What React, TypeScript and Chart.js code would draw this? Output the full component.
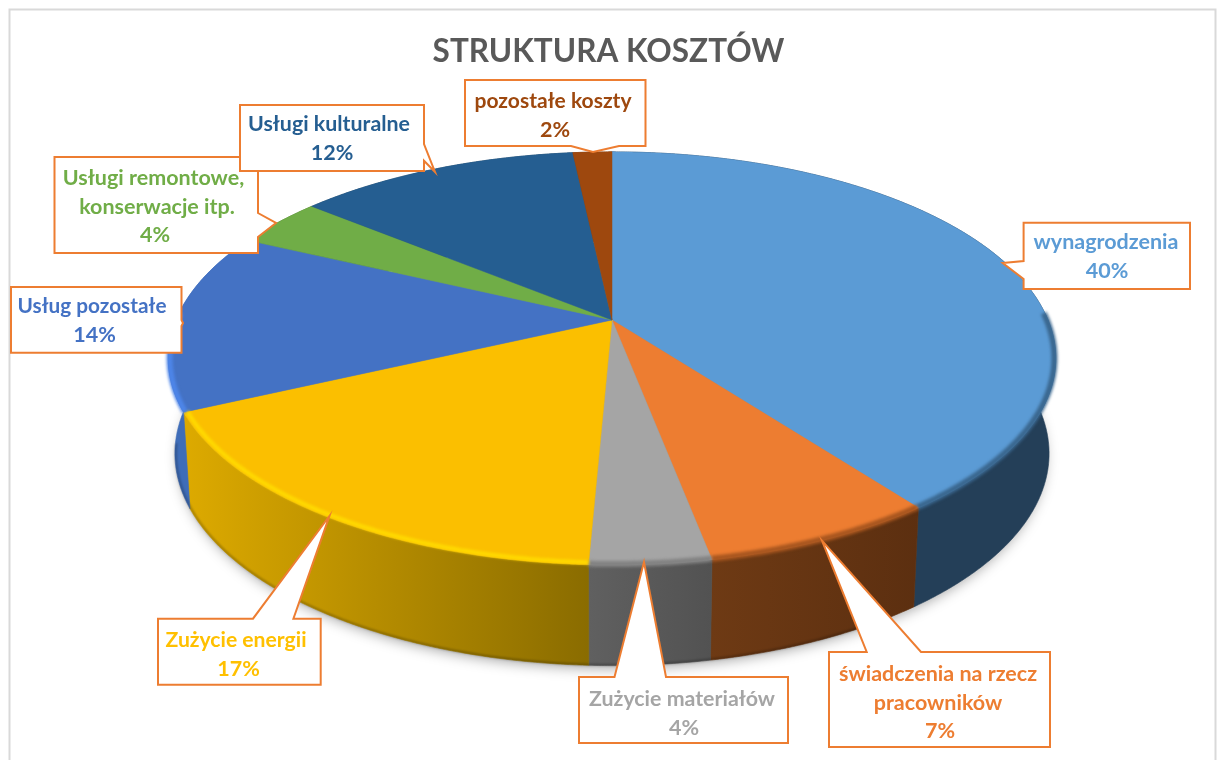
import React, { useEffect, useRef } from "react";
import { Chart, registerables } from "chart.js";

Chart.register(...registerables);

const categories = [
  "wynagrodzenia",
  "świadczenia na rzecz pracowników",
  "Zużycie materiałów",
  "Zużycie energii",
  "Usług pozostałe",
  "Usługi remontowe, konserwacje itp.",
  "Usługi kulturalne",
  "pozostałe koszty",
];
const values = [39.8, 7.2, 3.7, 17.3, 14.1, 3.9, 12.3, 1.7];
const sliceColors = ["#5B9BD5", "#ED7D31", "#A5A5A5", "#FBBF00", "#4472C4", "#70AD47", "#255E91", "#9E480E"];
const textColors = ["#5B9BD5", "#ED7D31", "#A5A5A5", "#FFC000", "#4472C4", "#70AD47", "#255E91", "#9E480E"];
const wallStops = [
  ["#243F58", "#243F58"],
  ["#6E3A14", "#5C2F10"],
  ["#606060", "#525252"],
  ["#DDAA00", "#8A6C00"],
  ["#3F6DB8", "#3F6DB8"],
  ["#4A7A30", "#4A7A30"],
  ["#1A4060", "#1A4060"],
  ["#6A300A", "#6A300A"],
];
const rimColors = ["#3A678F", "#A8561F", "#828282", "#FFDB00", "#4D85E8", "#70AD47", "#255E91", "#9E480E"];

// Perspective of the tilted disc
const CX = 612, CY = 320, A = 436, B = 199.4, K = 0.186;
const LOW_CY = 414, LOW_SX = 0.985, LOW_SY = 1.027;

type Callout = {
  idx: number;
  box: number[];
  side: "top" | "right" | "bottom" | "left";
  tail: number[][];
  lines: { t: string; x: number; y: number; w?: number }[];
};
const callouts: Callout[] = [
  { idx: 7, box: [465, 80, 645.5, 146], side: "bottom", tail: [[619, 146], [593, 152], [571, 146]],
    lines: [{ t: "pozostałe koszty", x: 553, y: 101, w: 157 }, { t: "%", x: 555, y: 130 }] },
  { idx: 5, box: [54.5, 157, 258, 253], side: "right", tail: [[258, 213], [276, 223], [258, 237]],
    lines: [{ t: "Usługi remontowe,", x: 153.5, y: 178, w: 182 }, { t: "konserwacje itp.", x: 157, y: 207, w: 157 }, { t: "%", x: 155, y: 235 }] },
  { idx: 6, box: [240, 105, 424, 171], side: "right", tail: [[424, 144], [435, 172], [424, 160.7]],
    lines: [{ t: "Usługi kulturalne", x: 329, y: 124, w: 162 }, { t: "%", x: 332, y: 153 }] },
  { idx: 4, box: [11, 287, 181.5, 352.7], side: "right", tail: [[181.5, 320], [183, 323], [181.5, 326]],
    lines: [{ t: "Usług pozostałe", x: 92, y: 306, w: 149 }, { t: "%", x: 94.5, y: 335 }] },
  { idx: 0, box: [1023.6, 222.7, 1190, 289], side: "left", tail: [[1023.6, 279], [1002.7, 263], [1023.6, 261]],
    lines: [{ t: "wynagrodzenia", x: 1106, y: 242, w: 145 }, { t: "%", x: 1107, y: 271 }] },
  { idx: 3, box: [158, 618.7, 320.7, 684.7], side: "top", tail: [[253, 618.7], [329.4, 516], [293.4, 618.7]],
    lines: [{ t: "Zużycie energii", x: 236, y: 640, w: 141 }, { t: "%", x: 238.5, y: 669 }] },
  { idx: 2, box: [579, 677, 788, 743], side: "top", tail: [[614.5, 677], [644, 562], [666, 677]],
    lines: [{ t: "Zużycie materiałów", x: 682, y: 699, w: 186 }, { t: "%", x: 684, y: 728 }] },
  { idx: 1, box: [829, 652, 1050, 747], side: "top", tail: [[866.7, 652], [822, 540.7], [921, 652]],
    lines: [{ t: "świadczenia na rzecz", x: 938, y: 674, w: 198 }, { t: "pracowników", x: 938, y: 703, w: 129 }, { t: "%", x: 940, y: 731 }] },
];

function project(theta: number, r: number, low: boolean) {
  const X = r * Math.sin(theta);
  const Y = -r * Math.cos(theta);
  const w = 1 - K * Y;
  return {
    x: CX + ((low ? LOW_SX : 1) * A * X) / w,
    y: (low ? LOW_CY : CY) + ((low ? LOW_SY : 1) * B * Y) / w,
  };
}

function arcPoints(t0: number, t1: number, r: number, low: boolean) {
  const n = Math.max(2, Math.ceil(Math.abs(t1 - t0) / 0.006));
  const pts = [];
  for (let i = 0; i <= n; i++) pts.push(project(t0 + ((t1 - t0) * i) / n, r, low));
  return pts;
}

function trace(ctx: CanvasRenderingContext2D, pts: { x: number; y: number }[], move = true) {
  pts.forEach((p, i) => {
    if (i === 0 && move) ctx.moveTo(p.x, p.y);
    else ctx.lineTo(p.x, p.y);
  });
}

const disc3d = {
  id: "disc3d",
  beforeDatasetsDraw(chart: any) {
    const ctx: CanvasRenderingContext2D = chart.ctx;
    const arcs = chart.getDatasetMeta(0).data;
    const spans = arcs.map((a: any) => [a.startAngle + Math.PI / 2, a.endAngle + Math.PI / 2]);
    const total = values.reduce((s, v) => s + v, 0);

    // soft shadow under the disc
    ctx.save();
    ctx.shadowColor = "rgba(0,0,0,0.38)";
    ctx.shadowBlur = 14;
    ctx.shadowOffsetY = 5;
    ctx.fillStyle = "#888";
    ctx.beginPath();
    trace(ctx, arcPoints(0, Math.PI * 2, 0.99, true));
    ctx.closePath();
    ctx.fill();
    ctx.restore();

    // side walls
    spans.forEach(([t0, t1]: number[], i: number) => {
      const top = arcPoints(t0, t1, 1, false);
      const bottom = arcPoints(t1, t0, 1, true);
      const xs = top.concat(bottom).map((p) => p.x);
      const g = ctx.createLinearGradient(Math.min(...xs), 0, Math.max(...xs), 0);
      g.addColorStop(0, wallStops[i][0]);
      g.addColorStop(1, wallStops[i][1]);
      ctx.fillStyle = g;
      ctx.strokeStyle = g;
      ctx.lineWidth = 0.6;
      ctx.beginPath();
      trace(ctx, top);
      trace(ctx, bottom, false);
      ctx.closePath();
      ctx.fill();
      ctx.stroke();
    });

    // dark lower edge of the wall
    ctx.save();
    ctx.filter = "blur(1px)";
    ctx.strokeStyle = "rgba(0,0,0,0.28)";
    ctx.lineWidth = 2;
    ctx.beginPath();
    trace(ctx, arcPoints((150 * Math.PI) / 180, (262 * Math.PI) / 180, 0.998, true));
    ctx.stroke();
    ctx.restore();

    // top faces
    spans.forEach(([t0, t1]: number[], i: number) => {
      ctx.fillStyle = sliceColors[i];
      ctx.strokeStyle = sliceColors[i];
      ctx.lineWidth = 0.5;
      ctx.beginPath();
      const c = project(0, 0, false);
      ctx.moveTo(c.x, c.y);
      trace(ctx, arcPoints(t0, t1, 1, false), false);
      ctx.closePath();
      ctx.fill();
      ctx.stroke();
    });

    // bevelled rim on the visible front edge
    const lo = (88 * Math.PI) / 180;
    const hi = (272 * Math.PI) / 180;
    spans.forEach(([t0, t1]: number[], i: number) => {
      const a = Math.max(t0, lo);
      const b = Math.min(t1, hi);
      if (b <= a) return;
      ctx.save();
      ctx.filter = "blur(1.8px)";
      ctx.strokeStyle = rimColors[i];
      ctx.lineWidth = i === 3 ? 4 : 6;
      ctx.lineCap = "butt";
      ctx.beginPath();
      trace(ctx, arcPoints(a, b, i === 3 ? 0.992 : 0.997, false));
      ctx.stroke();
      ctx.restore();
    });

    // callouts
    callouts.forEach((c) => {
      const [x0, y0, x1, y1] = c.box;
      const tl = [x0, y0], tr = [x1, y0], br = [x1, y1], bl = [x0, y1];
      const pts: number[][] = [tl];
      if (c.side === "top") pts.push(...c.tail);
      pts.push(tr);
      if (c.side === "right") pts.push(...c.tail);
      pts.push(br);
      if (c.side === "bottom") pts.push(...c.tail);
      pts.push(bl);
      if (c.side === "left") pts.push(...c.tail);
      ctx.beginPath();
      pts.forEach((p, i) => (i === 0 ? ctx.moveTo(p[0], p[1]) : ctx.lineTo(p[0], p[1])));
      ctx.closePath();
      ctx.fillStyle = "#fff";
      ctx.fill();
      ctx.strokeStyle = "#ED7D31";
      ctx.lineWidth = 2;
      ctx.lineJoin = "miter";
      ctx.stroke();
      ctx.fillStyle = textColors[c.idx];
      ctx.font = "bold 21.5px Lato";
      ctx.textAlign = "center";
      ctx.textBaseline = "middle";
      c.lines.forEach((l) => {
        const text = l.t === "%" ? `${Math.round((values[c.idx] / total) * 100)}%` : l.t;
        if (l.w) ctx.fillText(text, l.x, l.y, l.w);
        else ctx.fillText(text, l.x, l.y);
      });
    });
    return false;
  },
};

const frame = {
  id: "frame",
  beforeDraw(chart: any) {
    const ctx: CanvasRenderingContext2D = chart.ctx;
    ctx.save();
    ctx.fillStyle = "#fff";
    ctx.fillRect(0, 0, chart.width, chart.height);
    ctx.strokeStyle = "#D9D9D9";
    ctx.lineWidth = 2;
    ctx.strokeRect(9.5, 9.5, 1206, 800);
    ctx.restore();
  },
};

export default function App() {
  const ref = useRef<HTMLCanvasElement>(null);
  useEffect(() => {
    const chart = new Chart(ref.current!, {
      type: "pie",
      data: {
        labels: categories,
        datasets: [{ data: values, backgroundColor: sliceColors, borderWidth: 0 }],
      },
      options: {
        responsive: false,
        animation: false,
        plugins: {
          legend: { display: false },
          tooltip: { enabled: false },
          title: {
            display: true,
            text: "STRUKTURA KOSZTÓW",
            color: "#595959",
            font: { family: "Lato", size: 31.5, weight: "bold" },
            padding: { top: 33, bottom: 10 },
          },
        },
      },
      plugins: [frame, disc3d],
    } as any);
    return () => chart.destroy();
  }, []);
  return (
    <div style={{ position: "absolute", left: 0, top: 0, width: 1217, height: 760 }}>
      <canvas ref={ref} width={1217} height={760} style={{ display: "block" }} />
    </div>
  );
}
